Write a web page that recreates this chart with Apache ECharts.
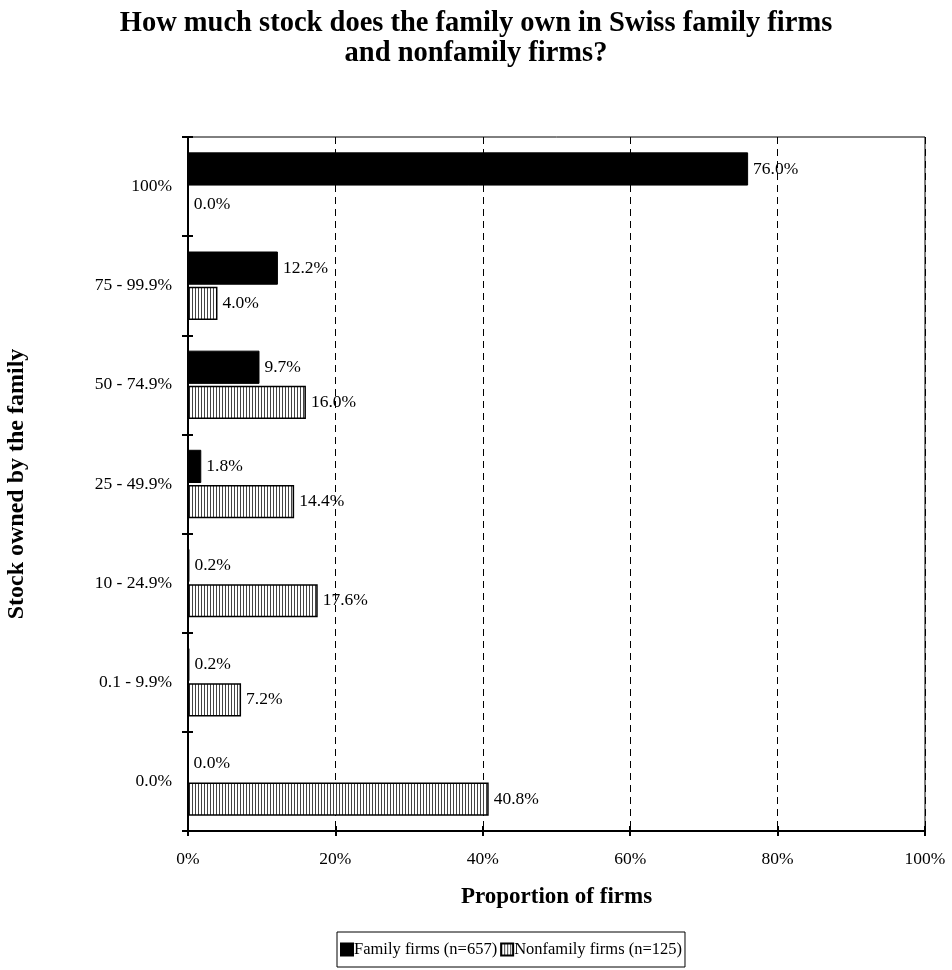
<!DOCTYPE html>
<html lang="en">
<head>
    <meta charset="UTF-8">
    <title>Family stock ownership</title>
    <script src="https://cdn.jsdelivr.net/npm/echarts@6/dist/echarts.min.js"></script>
    <style>
        html, body { margin: 0; padding: 0; background: #fff; }
        #chart1 { width: 952px; height: 970px; }
    </style>
</head>
<body>
<div id="chart1"></div>
<script>
    // data (top to bottom)
    var categories = ['100%', '75 - 99.9%', '50 - 74.9%', '25 - 49.9%', '10 - 24.9%', '0.1 - 9.9%', '0.0%'];
    var familyFirms = [76.0, 12.2, 9.7, 1.8, 0.2, 0.2, 0.0];
    var nonfamilyFirms = [0.0, 4.0, 16.0, 14.4, 17.6, 7.2, 40.8];
    var seriesNames = ['Family firms (n=657)', 'Nonfamily firms (n=125)'];

    var serif = 'Liberation Serif';

    // vertical hatch fill for the nonfamily bars
    var hatch = document.createElement('canvas');
    hatch.width = 3;
    hatch.height = 3;
    var hctx = hatch.getContext('2d');
    hctx.fillStyle = '#fff';
    hctx.fillRect(0, 0, 3, 3);
    hctx.fillStyle = '#444';
    hctx.fillRect(0, 0, 1, 3);

    var pct = function (p) { return p.value.toFixed(1) + '%'; };

    var labelStyle = {
        show: true,
        position: 'right',
        distance: 5,
        formatter: pct,
        color: '#000',
        fontFamily: serif,
        fontSize: 17.5
    };

    var myChart1 = echarts.init(document.getElementById('chart1'));

    myChart1.setOption({
        animation: false,
        backgroundColor: '#fff',
        title: {
            text: 'How much stock does the family own in Swiss family firms\nand nonfamily firms?',
            left: 'center',
            top: 4,
            textStyle: {
                fontFamily: serif,
                fontWeight: 'bold',
                fontSize: 28.5,
                lineHeight: 30,
                color: '#000'
            }
        },
        legend: {
            data: seriesNames,
            left: 337,
            top: 932,
            orient: 'horizontal',
            icon: 'rect',
            itemWidth: 12,
            itemHeight: 12,
            itemGap: 3,
            padding: [9, 3, 9, 3],
            borderColor: '#000',
            borderWidth: 1,
            textStyle: { fontFamily: serif, fontSize: 16.5, color: '#000', padding: [0, 0, 0, -4] }
        },
        grid: {
            left: 188,
            right: 27,
            top: 137,
            bottom: 139,
            outerBoundsMode: 'none',
            show: true,
            borderColor: '#000',
            borderWidth: 1,
            backgroundColor: 'transparent'
        },
        xAxis: [{
            type: 'value',
            min: 0,
            max: 100,
            interval: 20,
            name: 'Proportion of firms',
            nameLocation: 'middle',
            nameGap: 55,
            nameTextStyle: { fontFamily: serif, fontWeight: 'bold', fontSize: 23, color: '#000' },
            axisLine: { show: true, lineStyle: { color: '#000', width: 2 } },
            axisTick: { show: true, length: 5, lineStyle: { color: '#000', width: 2 } },
            axisLabel: { formatter: '{value}%', margin: 19, fontFamily: serif, fontSize: 17.5, color: '#000' },
            splitLine: { show: true, lineStyle: { color: '#000', type: [7, 5], width: 1 } }
        }, {
            // inner half of the crossing ticks
            type: 'value',
            min: 0,
            max: 100,
            interval: 20,
            position: 'bottom',
            axisLine: { show: false },
            axisTick: { show: true, inside: true, length: 5, lineStyle: { color: '#000', width: 2 } },
            axisLabel: { show: false },
            splitLine: { show: false }
        }],
        yAxis: [{
            type: 'category',
            data: categories,
            inverse: true,
            name: 'Stock owned by the family',
            nameLocation: 'middle',
            nameGap: 159,
            nameRotate: 90,
            nameTextStyle: { fontFamily: serif, fontWeight: 'bold', fontSize: 24, color: '#000' },
            axisLine: { show: true, lineStyle: { color: '#000', width: 2 } },
            axisTick: { show: true, length: 6, lineStyle: { color: '#000', width: 2 } },
            axisLabel: { margin: 16, fontFamily: serif, fontSize: 17.5, color: '#000' },
            splitLine: { show: false }
        }, {
            type: 'category',
            data: categories,
            inverse: true,
            position: 'left',
            axisLine: { show: false },
            axisTick: { show: true, inside: true, length: 5, lineStyle: { color: '#000', width: 2 } },
            axisLabel: { show: false },
            splitLine: { show: false }
        }],
        series: [{
            name: seriesNames[0],
            type: 'bar',
            xAxisIndex: 0,
            yAxisIndex: 0,
            data: familyFirms,
            barGap: '6%',
            barCategoryGap: '31%',
            itemStyle: { color: '#000', borderColor: '#000', borderWidth: 1 },
            label: labelStyle
        }, {
            name: seriesNames[1],
            type: 'bar',
            xAxisIndex: 0,
            yAxisIndex: 0,
            data: nonfamilyFirms,
            barGap: '6%',
            barCategoryGap: '31%',
            itemStyle: { color: { image: hatch, repeat: 'repeat' }, borderColor: '#000', borderWidth: 1.5 },
            label: labelStyle
        }]
    });
</script>
</body>
</html>
